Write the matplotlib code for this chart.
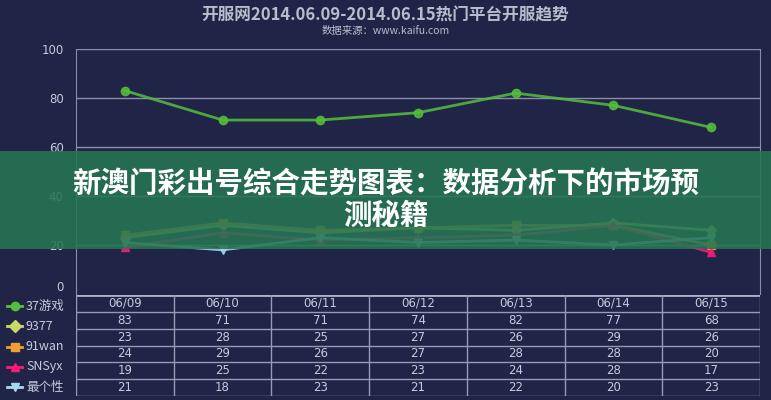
import matplotlib
matplotlib.use("Agg")
import matplotlib.pyplot as plt
from matplotlib.lines import Line2D
from matplotlib.patches import Rectangle

plt.rcParams['font.family'] = ['Noto Sans CJK SC', 'DejaVu Sans']

dates = ["06/09", "06/10", "06/11", "06/12", "06/13", "06/14", "06/15"]
series_names = ["37游戏", "9377", "91wan", "SNSyx", "最个性"]
v_37 = [83, 71, 71, 74, 82, 77, 68]
v_9377 = [23, 28, 25, 27, 26, 29, 26]
v_91wan = [24, 29, 26, 27, 28, 28, 20]
v_sns = [19, 25, 22, 23, 24, 28, 17]
v_zgx = [21, 18, 23, 21, 22, 20, 23]
yticks = [0, 20, 40, 60, 80, 100]

title = "开服网2014.06.09-2014.06.15热门平台开服趋势"
subtitle = "数据来源：www.kaifu.com"
banner = "新澳门彩出号综合走势图表：数据分析下的市场预\n测秘籍"

values = [v_37, v_9377, v_91wan, v_sns, v_zgx]
colors = ["#55bf3b", "#c8d86a", "#f0a030", "#ff1a7a", "#a8d8f0"]
markers = ["o", "D", "s", "^", "v"]
msizes = [6, 5, 5.5, 6, 6]

BG = "#202446"
GRID = "#8c8cac"
TXT = "#c8cadb"
W, H = 771, 400

fig = plt.figure(figsize=(W / 100, H / 100), dpi=100, facecolor=BG)

def box(x0, y0, x1, y1):
    return [x0 / W, 1 - y1 / H, (x1 - x0) / W, (y1 - y0) / H]

# main plot
ax = fig.add_axes(box(76, 49, 760, 294))
ax.set_facecolor(BG)
x = list(range(len(dates)))
for vals, c, m, ms in zip(values, colors, markers, msizes):
    ax.plot(x, vals, color=c, lw=2, alpha=0.85, marker=m, markersize=ms,
            markeredgecolor=c, zorder=3)
ax.set_xlim(-0.5, len(dates) - 0.5)
ax.set_ylim(0, 100)
ax.set_yticks(yticks)
ax.set_yticklabels([str(t) for t in yticks], color=TXT, fontsize=8.5,
                   family=['DejaVu Sans'])
ax.tick_params(axis='y', length=0, pad=9)
for lbl in ax.get_yticklabels()[:1]:
    lbl.set_verticalalignment("bottom")
ax.set_xticks([])
for t in yticks[1:]:
    ax.axhline(t, color=GRID, lw=1, zorder=1)
for side in ["top", "bottom"]:
    ax.spines[side].set_visible(False)
ax.spines["left"].set_color(GRID)
ax.spines["right"].set_color(GRID)

# table
tax = fig.add_axes(box(76, 295, 760, 396))
tax.set_facecolor(BG)
nrows = len(series_names) + 1
tax.set_xlim(-0.5, len(dates) - 0.5)
tax.set_ylim(nrows, 0)
tax.axis("off")
tax.axhline(0, color="#b0b0c8", lw=2)
for r in range(1, nrows + 1):
    tax.axhline(r, color="#9a9ab4", lw=1)
for c in range(len(dates) + 1):
    tax.axvline(c - 0.5, color="#9a9ab4", lw=1)
for i, d in enumerate(dates):
    tax.text(i, 0.5, d, ha="center", va="center", color=TXT, fontsize=8.5,
             family=['DejaVu Sans'])
for r, vals in enumerate(values):
    for i, v in enumerate(vals):
        tax.text(i, r + 1.5, str(v), ha="center", va="center", color=TXT,
                 fontsize=8.5, family=['DejaVu Sans'])

# legend
lax = fig.add_axes([0, 0, 76 / W, 1])
lax.set_xlim(0, 76)
lax.set_ylim(H, 0)
lax.axis("off")
for k, (name, c, m) in enumerate(zip(series_names, colors, markers)):
    yy = 306 + k * 20.3
    lax.add_line(Line2D([7, 22], [yy, yy], color=c, lw=2))
    lax.plot([14.5], [yy], marker=m, color=c, markersize=6)
    lax.text(26, yy, name, va="center", ha="left", color=TXT, fontsize=9)

# title
fig.text(0.5, 1 - 16 / H, title, ha="center", va="center", color="#b8bccc",
         fontsize=12, fontweight="bold")
fig.text(0.5, 1 - 31 / H, subtitle, ha="center", va="center", color="#b8bccc",
         fontsize=7.5)

# banner overlay
fig.patches.append(Rectangle((0, 1 - 249 / H), 1, (249 - 151) / H,
                             transform=fig.transFigure, facecolor="#267654",
                             alpha=0.88, edgecolor="none", zorder=10))
fig.text(0.5, 1 - 200 / H, banner, ha="center", va="center", color="white",
         fontsize=20.5, fontweight=900, linespacing=1.2, zorder=11)

fig.savefig("out.png", dpi=100, facecolor=BG)
